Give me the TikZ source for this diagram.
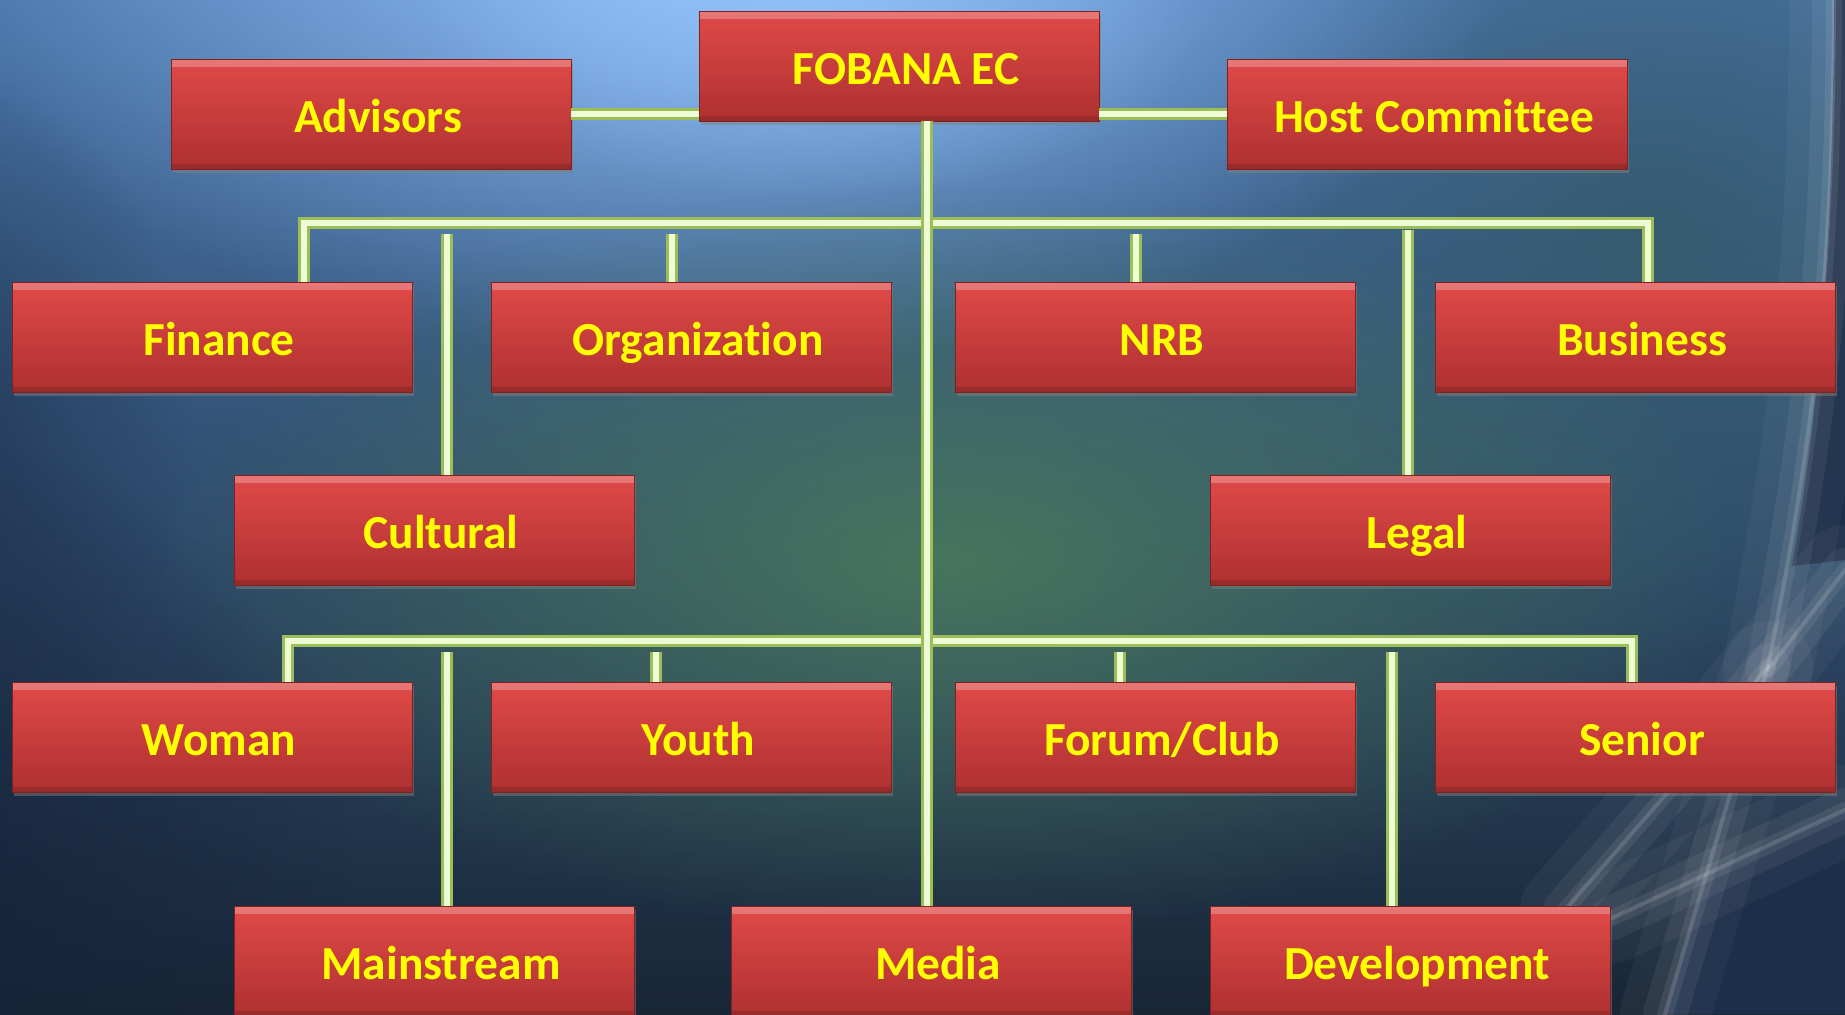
\documentclass[tikz,border=0pt]{standalone}
\usepackage{fontspec}
\setmainfont{Carlito}[Ligatures=NoCommon]
\usetikzlibrary{positioning,shadows,fadings}

\definecolor{boxtop}{RGB}{224,74,72}
\definecolor{boxbot}{RGB}{174,48,48}
\definecolor{boxrim}{RGB}{128,32,32}
\definecolor{linkrim}{RGB}{155,190,88}
\definecolor{linkfill}{RGB}{238,252,214}
\definecolor{labelyellow}{RGB}{255,255,0}
\definecolor{bgtop}{RGB}{72,116,168}
\definecolor{bgmid}{RGB}{50,88,100}
\definecolor{bgbot}{RGB}{24,38,54}
\definecolor{bgglow}{RGB}{150,198,255}
\definecolor{bggreen}{RGB}{74,122,92}
\definecolor{bgteal}{RGB}{52,90,104}
\definecolor{bgdeep}{RGB}{20,34,58}
\definecolor{bgnavy}{RGB}{28,46,72}

\tikzfading[name=glow, inner color=transparent!0, outer color=transparent!100]

\tikzset{
	unit/.style={
		rectangle,
		top color=boxtop,
		bottom color=boxbot,
		draw=boxrim, thin,
		minimum width=8cm,
		minimum height=2.2cm,
		text=labelyellow,
		font=\fontsize{27}{30}\selectfont\bfseries,
		text height=21.4pt,
		text depth=0pt,
		execute at begin node=\hspace*{.28cm},
		drop shadow={opacity=.5, shadow xshift=.04cm, shadow yshift=-.08cm},
		path picture={
			\fill[white, opacity=.25] (path picture bounding box.north west)
				rectangle ([yshift=-.16cm]path picture bounding box.north east);
			\fill[black, opacity=.12] (path picture bounding box.south west)
				rectangle ([yshift=.1cm]path picture bounding box.south east);
		}},
	link/.style={draw=linkrim, line width=.05cm, double=linkfill, double distance=.13cm},
	streak/.style={white, line cap=round},
}

\begin{document}
\begin{tikzpicture}[x=0.02cm, y=-0.02cm]

% backdrop
\useasboundingbox (0,0) rectangle (1845,1014);
\clip (0,0) rectangle (1845,1014);
\shade[top color=bgtop, middle color=bgmid, bottom color=bgbot] (0,0) rectangle (1845,1014);
\fill[bgteal, opacity=.8, path fading=glow] (1650,250) ellipse [x radius=9cm, y radius=9cm];
\fill[bgglow, path fading=glow] (720,-80) ellipse [x radius=16cm, y radius=9cm];
\fill[bgglow, opacity=.6, path fading=glow] (820,0) ellipse [x radius=8cm, y radius=4cm];
\fill[bggreen, opacity=.9, path fading=glow] (950,560) ellipse [x radius=16cm, y radius=7.5cm];
\fill[bgdeep, opacity=.8, path fading=glow] (-100,880) ellipse [x radius=9cm, y radius=9cm];
\fill[bgdeep, opacity=.5, path fading=glow] (-60,420) ellipse [x radius=5cm, y radius=7cm];
\fill[bgnavy] (1834,0) .. controls (1833,250) and (1818,420) .. (1792,566) -- (1845,560) -- (1845,0) -- cycle;
\fill[bgnavy] (1706,874) -- (1845,810) -- (1845,1014) -- (1665,1014) -- cycle;
\foreach \w/\o in {90/.04, 44/.06, 16/.08, 4/.14} {
	\draw[streak, line width=\w*0.02cm, opacity=\o]
		(1834,0) .. controls (1833,250) and (1818,420) .. (1768,666) -- (1668,792) -- (1565,910);
	\draw[streak, line width=\w*0.02cm, opacity=\o] (1845,570) -- (1768,670);
	\draw[streak, line width=\w*0.02cm, opacity=\o] (1845,810) -- (1612,918);
	\draw[streak, line width=\w*0.02cm, opacity=\o] (1768,666) -- (1665,1014);
}

% boxes
\node[unit] (FOBANA) at (899,66) {FOBANA EC};
\node[unit] (Advisors) at (371,114) {Advisors};
\node[unit] (Host) at (1427,114) {Host Committee};

\node[unit] (Finance) at (212,337) {Finance};
\node[unit] (Organization) at (691,337) {Organization};
\node[unit] (NRB) at (1155,337) {NRB};
\node[unit] (Business) at (1635,337) {Business};

\node[unit] (Cultural) at (434,530) {Cultural};
\node[unit] (Legal) at (1410,530) {Legal};

\node[unit] (Woman) at (212,737) {Woman};
\node[unit] (Youth) at (691,737) {Youth};
\node[unit] (Forum) at (1155,737) {Forum/Club};
\node[unit] (Senior) at (1635,737) {Senior};

\node[unit] (Mainstream) at (434,961) {Mainstream};
\node[unit] (Media) at (931,961) {Media};
\node[unit] (Development) at (1410,961) {Development};

% connectors
\coordinate (trunk) at (927,0);
\coordinate (fin) at (304,223);
\coordinate (biz) at (1648,223);
\coordinate (org) at (672,234);
\coordinate (nrb) at (1136,234);
\coordinate (cul) at (447,234);
\coordinate (leg) at (1408,230);
\coordinate (wom) at (288,641);
\coordinate (sen) at (1632,641);
\coordinate (you) at (656,652);
\coordinate (for) at (1120,652);
\coordinate (mai) at (447,652);
\coordinate (dev) at (1392,652);

\draw[link] (Advisors.east) -- (Advisors.east -| FOBANA.west);
\draw[link] (Host.west) -- (Host.west -| FOBANA.east);
\draw[link] (Finance.north -| fin) -- (fin) -- (biz) -- (biz |- Business.north);
\draw[link] (Woman.north -| wom) -- (wom) -- (sen) -- (sen |- Senior.north);
\foreach \c/\n in {org/Organization, nrb/NRB, cul/Cultural, leg/Legal,
		you/Youth, for/Forum, mai/Mainstream, dev/Development}
	\draw[link] (\c) -- (\c |- \n.north);
\draw[link] (FOBANA.south -| trunk) -- (trunk |- Media.north);

\end{tikzpicture}
\end{document}
